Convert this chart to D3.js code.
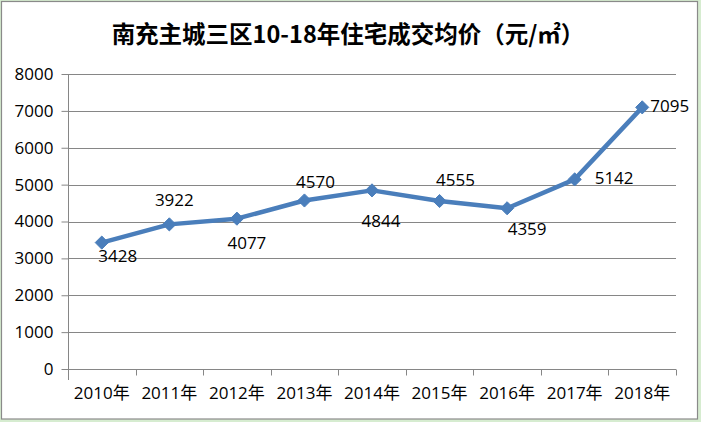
<!DOCTYPE html>
<html><head><meta charset="utf-8">
<script src="https://cdn.jsdelivr.net/npm/d3@7/dist/d3.min.js"></script>
<style>
html,body{margin:0;padding:0;background:#d6ecd0;}
svg{display:block;}
</style></head>
<body>
<script>
// ---- data ----
const title = "南充主城三区10-18年住宅成交均价（元/㎡）";
const categories = ["2010年","2011年","2012年","2013年","2014年","2015年","2016年","2017年","2018年"];
const prices = [3428, 3922, 4077, 4570, 4844, 4555, 4359, 5142, 7095];
const yTicks = [0,1000,2000,3000,4000,5000,6000,7000,8000];
// label placement relative to each point [dx, dy(baseline)]
const labelOffsets = [[16,19],[5,-18],[10,30],[11,-12],[9,37],[16,-15],[20,27],[20,5],[8,5]];

const W = 701, H = 422;
const svg = d3.select("body").append("svg").attr("width", W).attr("height", H);

svg.append("rect").attr("x",1.5).attr("y",1.5).attr("width",696).attr("height",417.5)
  .attr("fill","#fff").attr("stroke","#8a8a8a").attr("stroke-width",1.2);

const font = "'Open Sans', 'Noto Sans CJK SC', sans-serif";
const titleFont = "'Noto Sans CJK SC', sans-serif";
const fs = 17;
const m = {left:68, right:676, top:74, bottom:369};

const x = d3.scaleBand().domain(categories).range([m.left, m.right]);
const y = d3.scaleLinear().domain([0, 8000]).range([m.bottom, m.top]);

// gridlines
svg.append("g").selectAll("line").data(yTicks.filter(d=>d>0)).join("line")
  .attr("x1", m.left).attr("x2", m.right)
  .attr("y1", d=>Math.round(y(d))+0.5).attr("y2", d=>Math.round(y(d))+0.5)
  .attr("stroke","#868686").attr("stroke-width",1);

// y axis
const yAxis = svg.append("g").attr("transform",`translate(${m.left+0.5},0)`)
  .call(d3.axisLeft(y).tickValues(yTicks).tickSize(7).tickPadding(8).tickFormat(d3.format("d")));
yAxis.select(".domain").attr("stroke","#868686").attr("d",`M0,${m.top}V${m.bottom+11}`);
yAxis.selectAll(".tick line").attr("stroke","#868686");
yAxis.selectAll(".tick text").attr("font-family",font).attr("font-size",fs).attr("fill","#000");

// x axis
const xAxis = svg.append("g").attr("transform",`translate(0,${Math.round(m.bottom)+0.5})`)
  .call(d3.axisBottom(x).tickSize(0).tickPadding(17));
xAxis.select(".domain").attr("stroke","#868686").attr("d",`M${m.left},0H${m.right}`);
xAxis.selectAll(".tick text").attr("font-family",font).attr("font-size",fs).attr("fill","#000");
// boundary tick marks
const bounds = categories.map(c=>x(c)).concat([m.right]);
xAxis.append("g").selectAll("line").data(bounds).join("line")
  .attr("x1",d=>Math.round(d)+0.5).attr("x2",d=>Math.round(d)+0.5).attr("y1",0).attr("y2",6)
  .attr("stroke","#868686");

// line
const cx = (d,i)=>x(categories[i])+x.bandwidth()/2;
const line = d3.line().x((d,i)=>cx(d,i)).y(d=>y(d));
svg.append("path").datum(prices).attr("d",line)
  .attr("fill","none").attr("stroke","#4a7ebb").attr("stroke-width",4.5).attr("stroke-linejoin","round");

// markers
const sym = d3.symbol().type(d3.symbolDiamond2).size(110);
svg.append("g").selectAll("path").data(prices).join("path")
  .attr("d", sym).attr("transform",(d,i)=>`translate(${cx(d,i)},${y(d)})`)
  .attr("fill","#4a7ebb").attr("stroke","#4a7ebb").attr("stroke-width",1);

// data labels
svg.append("g").selectAll("text").data(prices).join("text")
  .attr("x",(d,i)=>cx(d,i)+labelOffsets[i][0])
  .attr("y",(d,i)=>y(d)+labelOffsets[i][1])
  .attr("text-anchor",(d,i)=>i>=7?"start":"middle")
  .attr("font-family",font).attr("font-size",fs).attr("fill","#000")
  .text(d=>d);

// title
svg.append("text").attr("x",348).attr("y",43).attr("text-anchor","middle")
  .attr("font-family",titleFont).attr("font-size",23.5).attr("font-weight","bold").attr("fill","#000")
  .text(title);
</script>
</body></html>
